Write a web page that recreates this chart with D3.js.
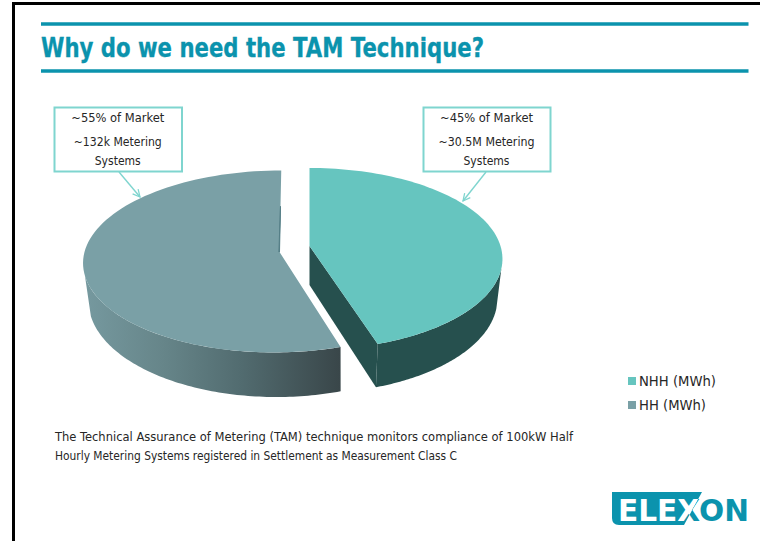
<!DOCTYPE html>
<html>
<head>
<meta charset="utf-8">
<script src="https://cdn.jsdelivr.net/npm/d3@7"></script>
<style>
  html, body { margin: 0; padding: 0; background: #fff; }
  svg { display: block; }
  text { font-family: "DejaVu Sans", Verdana, sans-serif; font-stretch: condensed; }
  text.wide { font-stretch: normal; }
</style>
</head>
<body>
<script>
// Slide content
const titleText = "Why do we need the TAM Technique?";
const categories = ["NHH (MWh)", "HH (MWh)"];
const shares = [45, 55];
const sliceColors = ["#66c5bf", "#7aa0a6"];
const calloutLines = [
  ["~45% of Market", "~30.5M Metering", "Systems"],
  ["~55% of Market", "~132k Metering", "Systems"]
];
const calloutWidths = [[93, 96, 46], [93, 88, 46]];
const bodyLines = [
  "The Technical Assurance of Metering (TAM) technique monitors compliance of 100kW Half",
  "Hourly Metering Systems registered in Settlement as Measurement Class C"
];
const bodyWidths = [518, 402];

const width = 760, height = 541;
const teal = "#0b93ad", calloutStroke = "#7fd5cf", inkColor = "#262626";

const svg = d3.select("body").append("svg").attr("width", width).attr("height", height);
const defs = svg.append("defs");

// Slide frame and title rules
svg.append("path").attr("d", "M13.5,541V3.5H760").attr("fill", "none").attr("stroke", "#000").attr("stroke-width", 3);
[24, 71].forEach(y => svg.append("line").attr("x1", 41).attr("x2", 748.5).attr("y1", y).attr("y2", y)
  .attr("stroke", teal).attr("stroke-width", 3.6));

function fittedText(parent, str, x, y, size, len, opts = {}) {
  return parent.append("text").text(str)
    .attr("class", opts.cls || null)
    .attr("x", x).attr("y", y).attr("font-size", size)
    .attr("textLength", len).attr("lengthAdjust", "spacingAndGlyphs")
    .attr("text-anchor", opts.anchor || "start")
    .attr("font-weight", opts.weight || "normal")
    .attr("fill", opts.fill || inkColor);
}

fittedText(svg, titleText, 41, 57, 26, 443, { weight: "bold", fill: teal, cls: "wide" })
  .attr("stroke", teal).attr("stroke-width", 0.35);

// Perspective planes for the two exploded slices: top face and base
const planes = [
  {
    top: { apex: [309.5, 246], c: 309.5, ay: 246, A: 191, B: 89.1, p: 0.142, s: 0 },
    base: { apex: [309.5, 285], c: 309.5, ay: 285, A: 186, B: 93, p: 0.142, s: 0 },
    wallFrom: 104 * Math.PI / 180
  },
  {
    top: { apex: [279.5, 252], c: 278, ay: 252, A: 193.5, B: 90, p: 0.104, s: -3.6 },
    base: { apex: [279.5, 291], c: 276.5, ay: 291, A: 187, B: 95, p: 0.104, s: 0 },
    wallFrom: 255 * Math.PI / 180
  }
];

// Angle measured clockwise from twelve o'clock, projected on to a plane
function project(angle, pl) {
  const u = Math.sin(angle), v = -Math.cos(angle), w = 1 - pl.p * v;
  return [pl.c + (pl.A * u + pl.s * v) / w, pl.ay + pl.B * v / w];
}
function rim(a0, a1, pl) {
  const n = 90;
  return d3.range(n + 1).map(i => project(a0 + (a1 - a0) * i / n, pl));
}

const pie = d3.pie().sort(null).value(d => d);
const arcs = pie(shares);
const outline = d3.line();

// Horizontal shading on the HH side wall
const grad = defs.append("linearGradient").attr("id", "hhWall")
  .attr("gradientUnits", "userSpaceOnUse").attr("x1", 88).attr("x2", 341).attr("y1", 0).attr("y2", 0);
[[0, "#75989e"], [0.3, "#668589"], [0.6, "#526c70"], [1, "#394649"]].forEach(([o, c]) =>
  grad.append("stop").attr("offset", o).attr("stop-color", c));
const wallFills = ["#26504e", "url(#hhWall)"];

const pieLayer = svg.append("g");
[1, 0].forEach(i => {
  const d = arcs[i], pl = planes[i];
  const g = pieLayer.append("g");
  // Side wall, running from the front corner of the slice to its outer tangent
  const wallStart = i === 0 ? d.endAngle : d.startAngle;
  const wall = rim(wallStart, pl.wallFrom, pl.top).concat(rim(pl.wallFrom, wallStart, pl.base));
  g.append("path").attr("d", outline(wall) + "Z").attr("fill", wallFills[i]);
  // Cut face seen on the NHH slice
  if (i === 0) {
    const corner = project(d.endAngle, pl.top), cornerBase = project(d.endAngle, pl.base);
    g.append("path").attr("d", outline([pl.top.apex, corner, cornerBase, pl.base.apex]) + "Z").attr("fill", wallFills[0]);
  }
  // Top face
  const face = [pl.top.apex].concat(rim(d.startAngle, d.endAngle, pl.top));
  g.append("path").attr("d", outline(face) + "Z").attr("fill", sliceColors[i]);
  // Thin shaded sliver along the HH back edge
  if (i === 1) {
    const a = pl.top.apex, b = project(d.endAngle, pl.top);
    const mid = [a[0] + (b[0] - a[0]) * 0.56, a[1] + (b[1] - a[1]) * 0.56];
    g.append("path").attr("d", outline([a, mid, [a[0] - 0.6, a[1]]]) + "Z")
      .attr("fill", "#557f87").attr("stroke", "#557f87").attr("stroke-width", 1);
  }
});

// Callouts
const markerHead = defs.append("marker").attr("id", "openHead")
  .attr("viewBox", "0 0 10 10").attr("refX", 9).attr("refY", 5)
  .attr("markerWidth", 9).attr("markerHeight", 9).attr("markerUnits", "userSpaceOnUse").attr("orient", "auto");
markerHead.append("path").attr("d", "M1,1L9,5L1,9").attr("fill", "none").attr("stroke", calloutStroke).attr("stroke-width", 1.4);

const calloutBoxes = [
  { x: 423.5, y: 107.5, w: 127, h: 64, from: [486, 172], to: [463, 201] },
  { x: 54.5, y: 107.5, w: 127.5, h: 64, from: [119, 172], to: [140, 197] }
];
calloutBoxes.forEach((b, i) => {
  svg.append("rect").attr("x", b.x).attr("y", b.y).attr("width", b.w).attr("height", b.h)
    .attr("fill", "#fff").attr("stroke", calloutStroke).attr("stroke-width", 2);
  svg.append("line").attr("x1", b.from[0]).attr("y1", b.from[1]).attr("x2", b.to[0]).attr("y2", b.to[1])
    .attr("stroke", calloutStroke).attr("stroke-width", 1.4).attr("marker-end", "url(#openHead)");
  const cx = b.x + b.w / 2 - 0.5;
  calloutLines[i].forEach((line, j) =>
    fittedText(svg, line, cx, [122, 146, 165][j], 12, calloutWidths[i][j], { anchor: "middle" }));
});

// Legend
const legendY = d3.scaleOrdinal().domain(categories).range([381, 405]);
const legend = svg.append("g");
categories.forEach((c, i) => {
  legend.append("rect").attr("x", 628).attr("y", legendY(c) - 4).attr("width", 8).attr("height", 8)
    .attr("fill", sliceColors[i]);
  fittedText(legend, c, 639, legendY(c) + 5, 14, i === 0 ? 77 : 67);
});

// Explanatory text
bodyLines.forEach((line, i) => fittedText(svg, line, 55, 441 + i * 18.5, 12.5, bodyWidths[i]));

// Logo: white lettering on the block, teal lettering beyond its slanted edge
const blockPath = "M612,492H702L684,525H619Q612,525 612,518Z";
defs.append("clipPath").attr("id", "logoBlock").append("path").attr("d", blockPath);
fittedText(svg, "ELEXON", 618, 520.5, 30, 131, { weight: "bold", fill: teal, cls: "wide" });
svg.append("path").attr("d", blockPath).attr("fill", teal);
fittedText(svg, "ELEXON", 618, 520.5, 30, 131, { weight: "bold", fill: "#fff", cls: "wide" }).attr("clip-path", "url(#logoBlock)");
</script>
</body>
</html>
